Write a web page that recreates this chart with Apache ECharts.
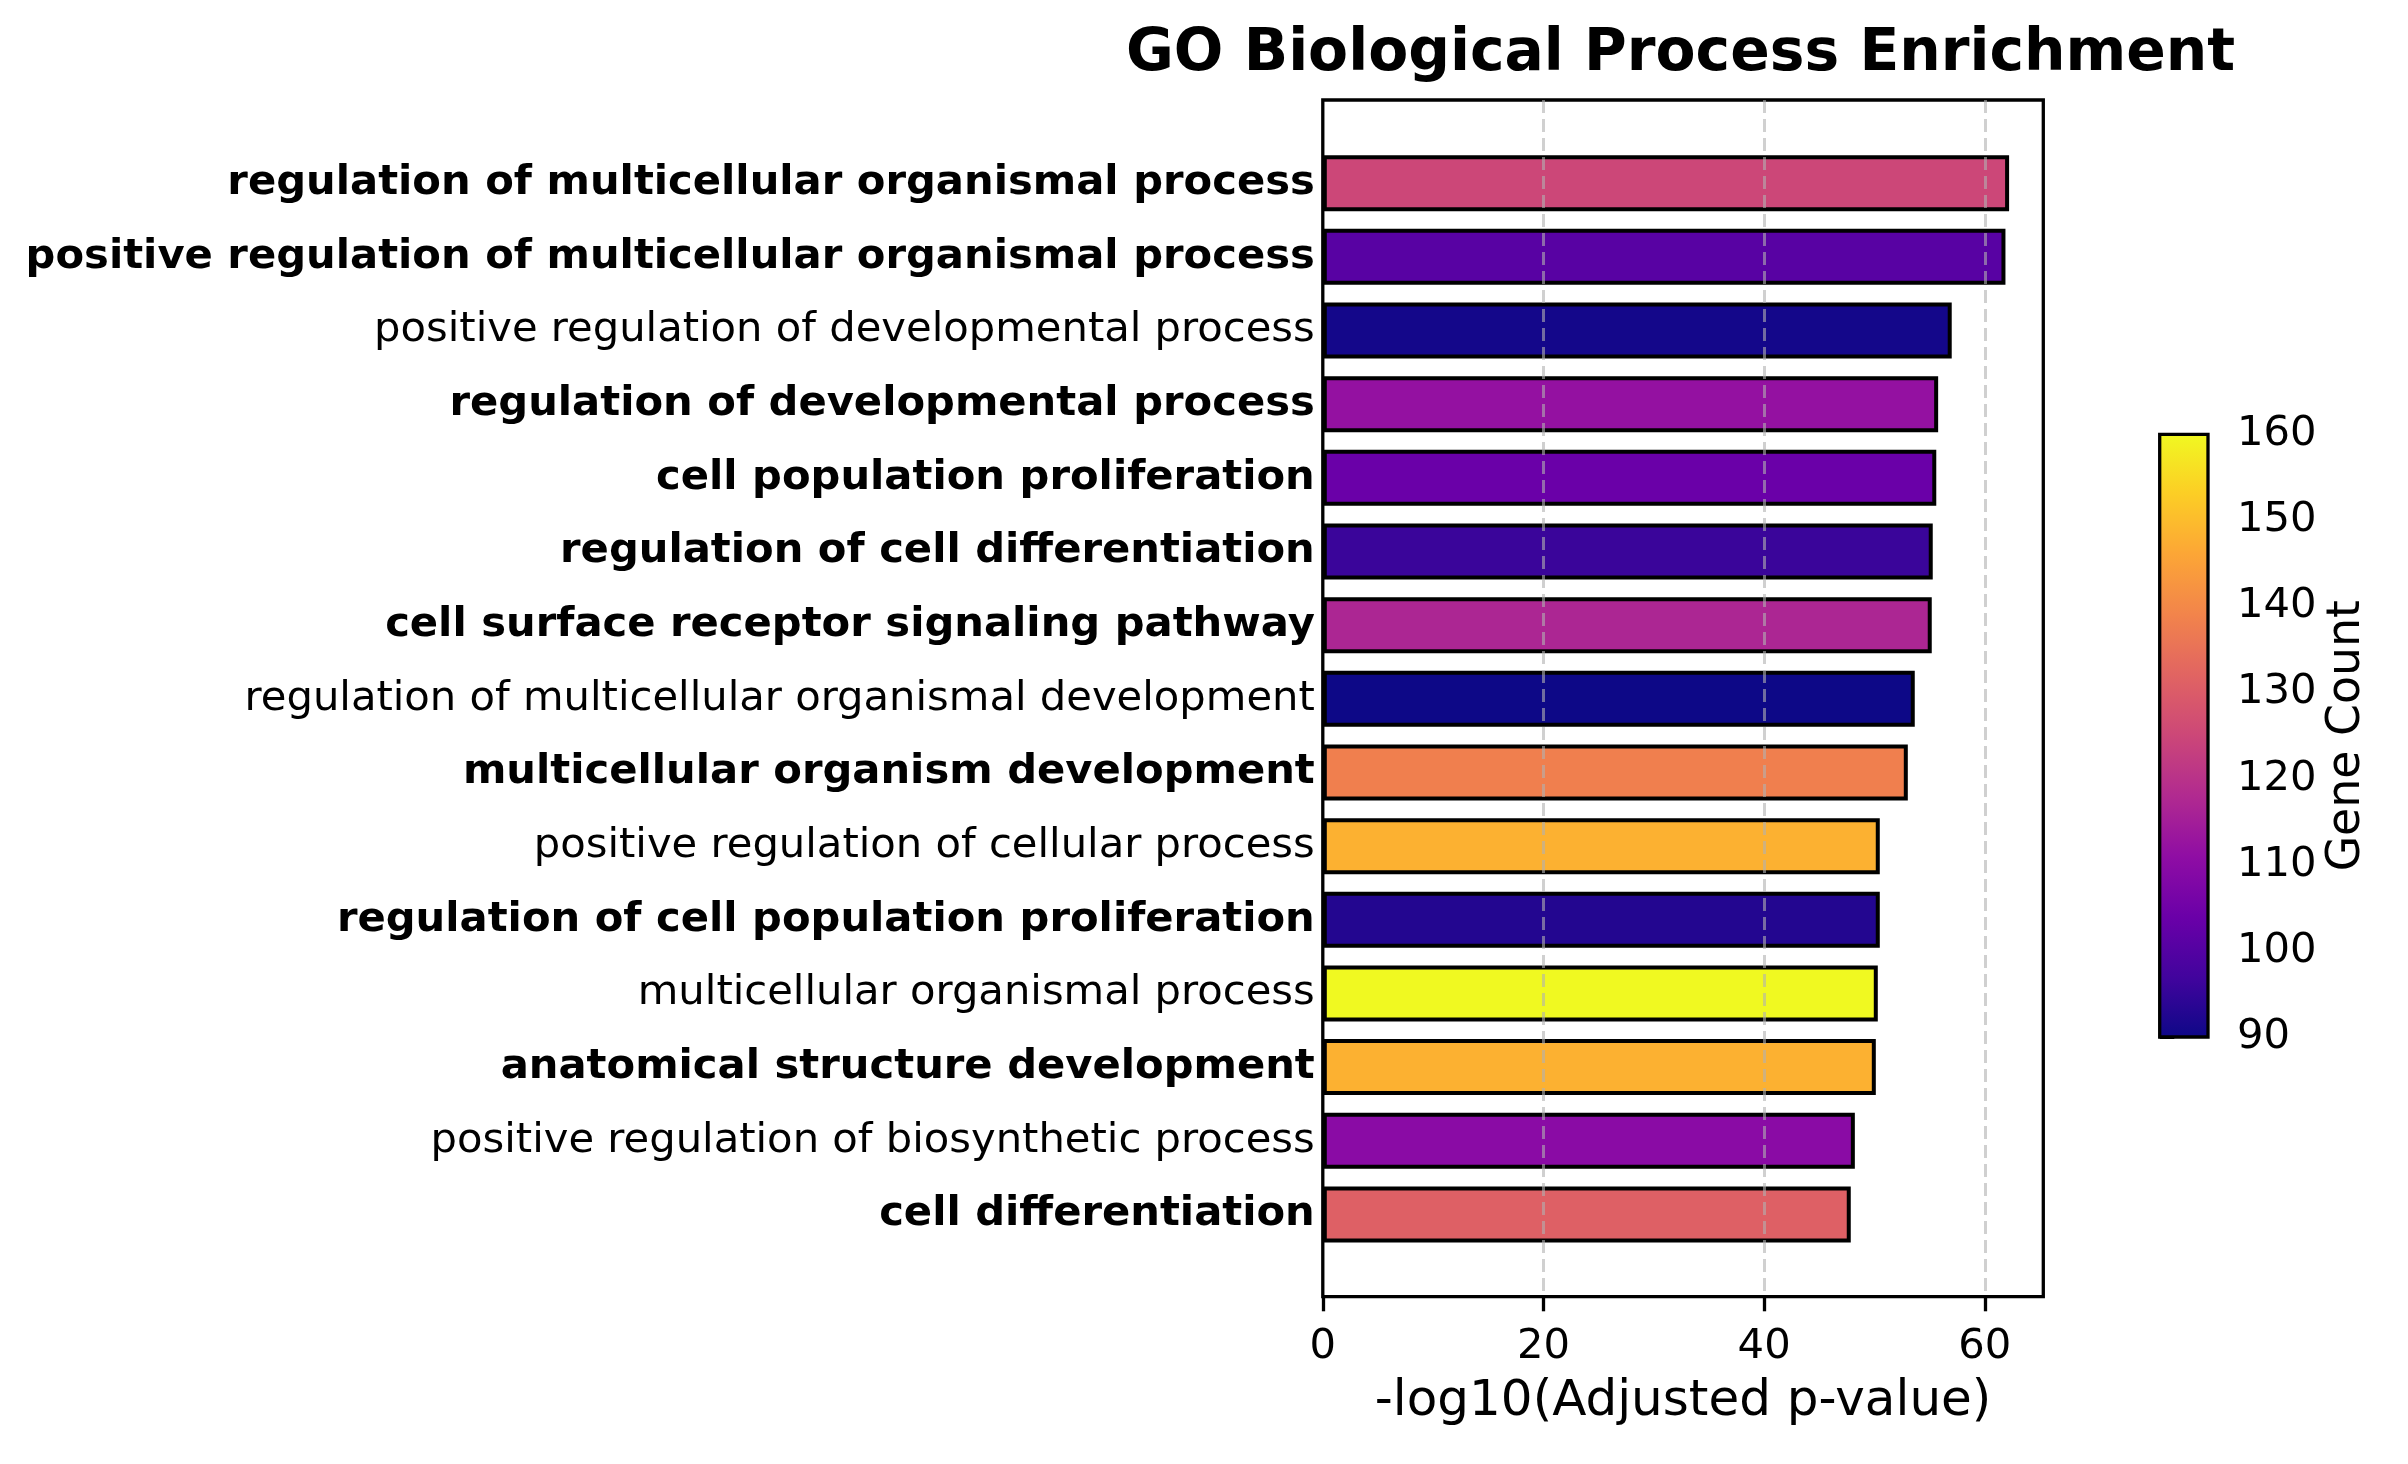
<!DOCTYPE html>
<html>
<head>
<meta charset="utf-8">
<script src="https://cdn.jsdelivr.net/npm/echarts@6/dist/echarts.min.js"></script>
<style>
  html, body { margin: 0; padding: 0; background: #fff; }
  #chart { width: 2408px; height: 1464px; }
</style>
</head>
<body>
<div id="chart"></div>
<script>
// GO terms, top to bottom
const terms = [
  "regulation of multicellular organismal process",
  "positive regulation of multicellular organismal process",
  "positive regulation of developmental process",
  "regulation of developmental process",
  "cell population proliferation",
  "regulation of cell differentiation",
  "cell surface receptor signaling pathway",
  "regulation of multicellular organismal development",
  "multicellular organism development",
  "positive regulation of cellular process",
  "regulation of cell population proliferation",
  "multicellular organismal process",
  "anatomical structure development",
  "positive regulation of biosynthetic process",
  "cell differentiation",
];
const boldTerm = [1, 1, 0, 1, 1, 1, 1, 0, 1, 0, 1, 0, 1, 0, 1];
const negLogP = [62.2, 61.87, 57.0, 55.77, 55.6, 55.28, 55.19, 53.65, 53.02, 50.48, 50.48, 50.3, 50.12, 48.22, 47.85];
const geneCount = [125, 101, 91, 112, 104, 96, 117, 90, 138, 148, 93, 160, 148, 110, 131];
const xTicks = [0, 20, 40, 60];
const cbMin = 90, cbMax = 160;

// matplotlib plasma, sampled every 0.1
const plasma = ["#0d0887", "#41049d", "#6a00a8", "#8f0da4", "#b12a90", "#cc4778",
  "#e16462", "#f2844b", "#fca636", "#fcce25", "#f0f921"];

function hex2rgb(h) {
  return [1, 3, 5].map((i) => parseInt(h.slice(i, i + 2), 16));
}
function plasmaColor(v) {
  let t = (v - cbMin) / (cbMax - cbMin);
  t = Math.max(0, Math.min(1, t));
  const p = t * (plasma.length - 1);
  const i = Math.min(Math.floor(p), plasma.length - 2);
  const f = p - i;
  const a = hex2rgb(plasma[i]), b = hex2rgb(plasma[i + 1]);
  const c = a.map((x, k) => Math.round(x + (b[k] - x) * f));
  return `rgb(${c[0]},${c[1]},${c[2]})`;
}

const FONT = "DejaVu Sans";
const chart = echarts.init(document.getElementById("chart"), null, { renderer: "canvas" });

const frame = { left: 1322.8, top: 100, width: 720.5, height: 1196.7 };
const pitch = 73.66;

chart.setOption({
  animation: false,
  backgroundColor: "#ffffff",
  textStyle: { fontFamily: FONT },
  title: {
    text: "GO Biological Process Enrichment",
    left: 1126,
    top: 26,
    padding: 0,
    textStyle: { fontFamily: FONT, fontSize: 58.3, fontWeight: "bold", color: "#000" },
  },
  grid: [
    {
      // axes frame
      left: frame.left, top: frame.top, width: frame.width, height: frame.height,
      show: true, borderColor: "#000", borderWidth: 3.3, backgroundColor: "transparent",
    },
    {
      // band area of the categories
      left: frame.left, width: frame.width,
      top: 183.2 - pitch / 2, height: pitch * terms.length,
    },
    {
      // colorbar
      left: 2159.7, top: 434.3, width: 48.3, height: 602.7,
    },
  ],
  xAxis: [
    {
      gridIndex: 0, type: "value", min: 0, max: 65.3, interval: 20, z: 5,
      axisLine: { show: false },
      axisTick: {
        show: true, length: 14.6, customValues: xTicks,
        lineStyle: { color: "#000", width: 3.3 },
      },
      axisLabel: {
        fontSize: 41.7, color: "#000", margin: 29, fontFamily: FONT,
        customValues: xTicks,
      },
      splitLine: {
        show: true, showMinLine: false, showMaxLine: true,
        lineStyle: { color: "rgba(176,176,176,0.6)", width: 3, type: [13, 6] },
      },
      name: "-log10(Adjusted p-value)",
      nameLocation: "middle",
      nameGap: 80,
      nameTextStyle: { fontSize: 50, color: "#000", fontFamily: FONT },
    },
    { gridIndex: 1, type: "value", min: 0, max: 65.3, show: false },
    { gridIndex: 2, type: "value", min: 0, max: 1, show: false },
  ],
  yAxis: [
    { gridIndex: 0, type: "value", min: 0, max: 1, show: false },
    {
      gridIndex: 1, type: "category", inverse: true,
      data: terms.map((t, i) => ({
        value: t,
        textStyle: { fontWeight: boldTerm[i] ? "bold" : "normal" },
      })),
      axisLine: { show: false },
      axisTick: { show: false },
      splitLine: { show: false },
      axisLabel: { fontSize: 41.7, color: "#000", margin: 8, fontFamily: FONT, interval: 0 },
    },
    {
      gridIndex: 2, type: "value", min: cbMin, max: cbMax, interval: 10, position: "right",
      axisLine: { show: false },
      axisTick: { show: true, length: 14.6, lineStyle: { color: "#000", width: 3 } },
      axisLabel: { fontSize: 41.7, color: "#000", margin: 29, fontFamily: FONT },
      splitLine: { show: false },
      name: "Gene Count",
      nameLocation: "middle",
      nameRotate: 90,
      nameGap: 116,
      nameTextStyle: { fontSize: 45.8, color: "#000", fontFamily: FONT },
    },
  ],
  series: [
    {
      type: "bar",
      xAxisIndex: 1,
      yAxisIndex: 1,
      barWidth: 56,
      data: negLogP.map((v, i) => ({
        value: v,
        itemStyle: { color: plasmaColor(geneCount[i]) },
      })),
      itemStyle: { borderColor: "#000", borderWidth: 4 },
    },
    {
      type: "custom",
      xAxisIndex: 2,
      yAxisIndex: 2,
      data: [[0, cbMin, 1, cbMax]],
      renderItem: (params, api) => {
        const p0 = api.coord([api.value(0), api.value(3)]);
        const p1 = api.coord([api.value(2), api.value(1)]);
        return {
          type: "rect",
          shape: { x: p0[0], y: p0[1], width: p1[0] - p0[0], height: p1[1] - p0[1] },
          style: {
            fill: new echarts.graphic.LinearGradient(0, 1, 0, 0,
              plasma.map((c, k) => ({ offset: k / (plasma.length - 1), color: c }))),
            stroke: "#000",
            lineWidth: 3.3,
          },
        };
      },
    },
  ],
});
</script>
</body>
</html>
